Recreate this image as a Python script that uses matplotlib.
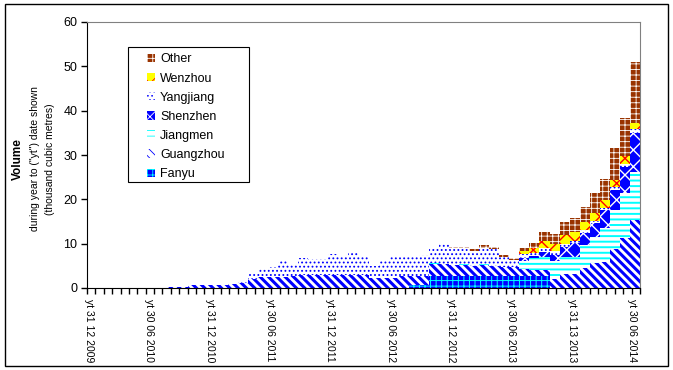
import numpy as np
import matplotlib
matplotlib.use('Agg')
import matplotlib.pyplot as plt
from matplotlib.patches import Rectangle

plt.rcParams['font.family'] = ['Liberation Sans', 'DejaVu Sans']

# months from yt 31 12 2009 to yt 30 06 2014 (55 bars)
n = 55
z8 = [0.0] * 8

fanyu = z8 + [0]*24 + [0.6, 0.6, 2.7, 2.7, 2.7, 2.7, 2.7, 2.7, 2.7, 2.7, 2.6, 2.6, 2.6, 2.6,
                       0, 0, 0, 0, 0, 0, 0, 0, 0]
guangzhou = z8 + [0.2, 0.25, 0.6, 0.6, 0.6, 0.75, 1.0, 1.1, 2.1, 2.5, 2.5, 2.5, 2.6, 2.9,
                  2.9, 2.9, 2.9, 3.0, 3.0, 3.0, 2.3, 2.3, 2.3, 2.8, 2.2, 2.2, 2.7, 2.7,
                  2.5, 2.5, 2.3, 2.5, 2.3, 2.0, 2.1, 1.7, 1.5, 1.5, 2.0, 3.2, 3.2, 4.4,
                  5.6, 5.8, 8.8, 11.3, 15.3]
jiangmen = z8 + [0]*26 + [0.15, 0, 0, 0.15, 0, 0.15, 0, 0, 0, 1.9, 2.6, 2.9, 4.0, 3.9, 3.9,
                          5.3, 6.0, 7.8, 8.8, 10.1, 10.9]
shenzhen = z8 + [0]*35 + [0.6, 0.5, 1.2, 1.4, 2.2, 3.0, 2.6, 3.0, 3.9, 4.6, 6.0, 8.8]
yangjiang = z8 + [0, 0, 0, 0, 0, 0, 0, 0.5, 1.5, 2.1, 2.3, 3.5, 2.9, 3.8, 3.6, 3.6, 4.7,
                  4.0, 4.9, 4.2, 2.7, 3.9, 4.7, 4.2, 4.4, 4.6, 3.75, 4.7, 3.9, 3.75, 3.4,
                  3.65, 3.9, 2.2, 1.6, 0.8, 0.8, 0.8, 0.9, 0.7, 0.6, 0.7, 0.6, 0.6, 0.6,
                  0.6, 0.8]
wenzhou = z8 + [0]*35 + [0.7, 1.0, 1.6, 1.7, 2.0, 1.9, 2.0, 1.8, 1.7, 1.6, 1.7, 1.5]
other = z8 + [0]*28 + [0.2, 0.2, 0.4, 0.6, 0.4, 0.5, 0.5, 0.7, 1.1, 2.0, 2.2, 2.8, 3.2,
                       3.3, 4.5, 4.8, 7.2, 8.7, 13.6]

tick_idx = [0, 6, 12, 18, 24, 30, 36, 42, 48, 54]
tick_labels = ['yt 31 12 2009', 'yt 30 06 2010', 'yt 31 12 2010', 'yt 30 06 2011',
               'yt 31 12 2011', 'yt 30 06 2012', 'yt 31 12 2012', 'yt 30 06 2013',
               'yt 31 13 2013', 'yt 30 06 2014']

# name, values, face, hatch colour, hatch, hatch width
series = [
    ('Fanyu', fanyu, '#0000FF', '#00FFFF', '+++', 0.7),
    ('Guangzhou', guangzhou, '#FFFFFF', '#0000FF', '\\\\\\\\', 2.2),
    ('Jiangmen', jiangmen, '#FFFFFF', '#00FFFF', '---', 1.4),
    ('Shenzhen', shenzhen, '#0000FF', '#FFFFFF', 'xx', 1.0),
    ('Yangjiang', yangjiang, '#FFFFFF', '#0000FF', '....', 0.8),
    ('Wenzhou', wenzhou, '#FFFF00', '#FF0000', 'xx', 1.0),
    ('Other', other, '#993300', '#FFFFFF', '+++', 0.6),
]

fig = plt.figure(figsize=(6.73, 3.70), dpi=100)
ax = fig.add_axes([87/673, 1-288/370, 553/673, 266/370])

x = np.arange(n)
bottom = np.zeros(n)
handles = []
for name, vals, face, hc, hatch, hw in series:
    vals = np.array(vals, dtype=float)
    plt.rcParams['hatch.linewidth'] = hw
    bars = ax.bar(x, vals, width=1.0, bottom=bottom, color=face, edgecolor=hc,
                  linewidth=0, hatch=hatch, label=name)
    for b in bars:
        if hasattr(b, 'set_hatch_linewidth'):
            b.set_hatch_linewidth(hw)
    handles.append(bars)
    bottom += vals

ax.set_xlim(-0.5, n - 0.5)
ax.set_ylim(0, 60)
ax.set_yticks(range(0, 61, 10))
ax.tick_params(axis='y', direction='out', length=4, width=1, labelsize=9, pad=3)

ax.set_xticks(np.array(tick_idx) - 0.3)
ax.set_xticklabels(tick_labels, rotation=270, fontsize=7.5, va='top', ha='center')
ax.tick_params(axis='x', which='major', length=0, pad=8)
ax.set_xticks(np.arange(0, 67) * 55 / 66 - 0.5, minor=True)
ax.tick_params(axis='x', which='minor', direction='out', length=4, width=1)

for s in ['top', 'right']:
    ax.spines[s].set_color('#808080')
for s in ['left', 'bottom']:
    ax.spines[s].set_color('black')

# legend box drawn separately, entries placed inside it
ax.add_patch(Rectangle((0.074, 0.398), 0.219, 0.508, transform=ax.transAxes,
                       facecolor='white', edgecolor='black', linewidth=0.8, zorder=4))
leg = ax.legend(handles[::-1], [s[0] for s in series][::-1], loc='upper left',
                bbox_to_anchor=(0.1085, 0.882), borderaxespad=0, borderpad=0,
                frameon=False, fontsize=9, handlelength=0.65, handleheight=0.65,
                handletextpad=0.4, labelspacing=0.57)
leg.set_zorder(5)

fig.text(18/673, 1-159/370, 'Volume', rotation=90, fontsize=8.5, fontweight='bold',
         ha='center', va='center')
fig.text(35/673, 1-159/370, 'during year to ("yt") date shown', rotation=90,
         fontsize=7.5, ha='center', va='center')
fig.text(50/673, 1-159/370, '(thousand cubic metres)', rotation=90, fontsize=7.5,
         ha='center', va='center')

fig.patches.append(Rectangle((5/673, 1-366/370), 663/673, 362/370, fill=False,
                             edgecolor='black', linewidth=1, transform=fig.transFigure,
                             figure=fig))

fig.savefig('out.png', dpi=100)
